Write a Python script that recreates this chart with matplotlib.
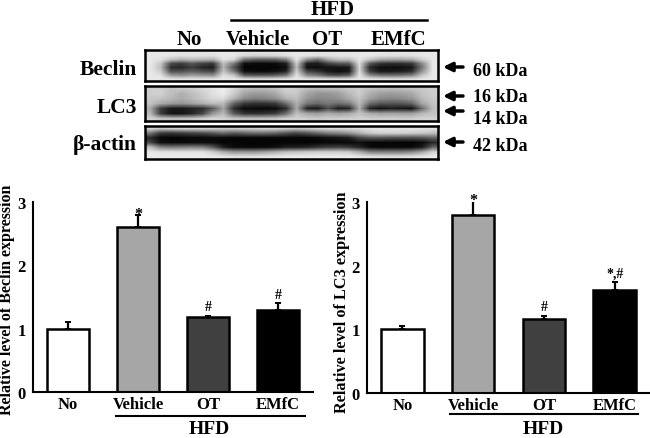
import numpy as np
import matplotlib
matplotlib.use('Agg')
import matplotlib.pyplot as plt

plt.rcParams['font.family'] = ['Liberation Serif', 'DejaVu Serif']
plt.rcParams['font.weight'] = 'bold'

W, H = 650, 439

groups = ['No', 'Vehicle', 'OT', 'EMfC']
bar_colors = ['white', '#a6a6a6', '#404040', 'black']

beclin_vals = [1.0, 2.6, 1.18, 1.3]
beclin_errs = [0.1, 0.2, 0.02, 0.1]
beclin_marks = ['', '*', '#', '#']

lc3_vals = [1.0, 2.8, 1.16, 1.62]
lc3_errs = [0.05, 0.22, 0.05, 0.12]
lc3_marks = ['', '*', '#', '*,#']

# blot gray levels (0 black, 255 white)
beclin_blot = [
    [232, 232, 232, 230, 230, 230, 232, 232, 232, 228, 228, 228, 228, 230, 232, 232, 230, 230, 230, 230, 232, 232, 232, 230, 230, 230, 232, 232],
    [232, 232, 228, 225, 225, 225, 225, 232, 232, 215, 210, 210, 212, 220, 232, 228, 222, 225, 228, 228, 232, 230, 225, 222, 222, 225, 230, 232],
    [232, 225, 190, 175, 185, 180, 175, 225, 215, 110, 90, 90, 95, 125, 228, 140, 105, 165, 190, 190, 230, 195, 165, 160, 160, 170, 205, 232],
    [232, 200, 75, 60, 85, 65, 55, 190, 120, 15, 10, 10, 12, 30, 205, 30, 25, 65, 85, 90, 220, 85, 50, 45, 45, 55, 140, 232],
    [232, 190, 45, 40, 60, 40, 30, 180, 85, 5, 5, 5, 5, 15, 190, 15, 15, 20, 20, 25, 215, 40, 15, 15, 15, 25, 120, 232],
    [232, 205, 80, 80, 95, 80, 70, 195, 120, 15, 10, 10, 15, 35, 205, 70, 50, 25, 15, 25, 220, 60, 25, 25, 30, 45, 150, 232],
    [232, 225, 150, 140, 155, 145, 140, 220, 195, 90, 80, 80, 90, 115, 225, 135, 115, 80, 70, 90, 228, 135, 110, 105, 110, 125, 195, 232],
    [232, 232, 228, 225, 228, 228, 228, 232, 232, 222, 218, 218, 220, 225, 232, 228, 225, 222, 220, 222, 232, 228, 225, 222, 222, 225, 230, 232],
]
lc3_blot = [
    [205, 205, 195, 200, 205, 215, 225, 235, 215, 190, 185, 185, 195, 210, 205, 190, 185, 190, 190, 200, 205, 195, 190, 190, 190, 195, 200, 205],
    [205, 210, 190, 175, 190, 205, 225, 235, 205, 165, 155, 155, 170, 200, 200, 165, 150, 150, 160, 185, 205, 175, 160, 155, 160, 170, 195, 205],
    [200, 195, 185, 170, 185, 200, 215, 220, 180, 140, 130, 135, 145, 180, 190, 150, 135, 140, 145, 170, 195, 160, 140, 135, 140, 150, 185, 200],
    [195, 170, 155, 150, 160, 175, 190, 185, 100, 55, 50, 50, 60, 110, 175, 120, 105, 120, 110, 125, 185, 110, 85, 85, 85, 100, 165, 195],
    [170, 60, 25, 25, 35, 45, 90, 165, 45, 10, 10, 10, 12, 45, 170, 35, 25, 80, 30, 40, 175, 35, 20, 30, 25, 20, 110, 190],
    [185, 60, 20, 20, 35, 70, 150, 185, 90, 50, 45, 50, 60, 110, 190, 165, 155, 170, 160, 170, 195, 170, 160, 165, 160, 160, 185, 195],
    [210, 195, 190, 190, 195, 205, 215, 210, 195, 190, 190, 190, 195, 205, 210, 205, 200, 205, 205, 205, 210, 205, 205, 205, 205, 205, 210, 210],
]
actin_blot = [
    [215, 205, 210, 215, 215, 215, 210, 205, 205, 210, 210, 215, 215, 205, 200, 205, 215, 220, 220, 220, 222, 225, 228, 228, 228, 228, 228, 225],
    [120, 60, 55, 60, 70, 75, 90, 105, 90, 100, 110, 110, 100, 85, 70, 85, 105, 125, 135, 150, 175, 200, 210, 210, 210, 205, 200, 190],
    [40, 5, 5, 5, 8, 8, 10, 8, 5, 5, 5, 5, 5, 5, 5, 5, 8, 15, 20, 30, 70, 85, 85, 80, 80, 80, 85, 100],
    [70, 15, 10, 10, 12, 12, 10, 5, 5, 5, 5, 5, 5, 5, 5, 5, 5, 8, 8, 10, 15, 8, 5, 5, 5, 5, 10, 40],
    [190, 130, 120, 125, 130, 125, 90, 30, 10, 8, 8, 10, 15, 30, 30, 35, 50, 60, 65, 55, 35, 10, 8, 8, 8, 10, 25, 100],
    [230, 225, 225, 225, 225, 225, 205, 170, 150, 150, 150, 160, 175, 190, 195, 200, 205, 205, 205, 200, 170, 130, 125, 125, 125, 135, 165, 210],
    [235, 235, 235, 235, 235, 235, 235, 230, 225, 225, 225, 228, 230, 235, 235, 235, 235, 235, 235, 235, 230, 225, 222, 222, 222, 225, 230, 235],
]

blot_names = ['Beclin', 'LC3', '\u03b2-actin']
blots = [beclin_blot, lc3_blot, actin_blot]
blot_boxes = [(145, 51, 438, 82), (145, 87, 438, 122), (145, 127, 438, 160)]
blot_label_y = [75, 113, 150]

arrow_y = [68, 97, 112, 143]
kda_labels = ['60 kDa', '16 kDa', '14 kDa', '42 kDa']
kda_y = [76, 102, 124, 151]
lane_labels = [('No', 189), ('Vehicle', 258), ('OT', 327), ('EMfC', 398)]


def make_ax(x0, y0, x1, y1):
    # axes from pixel box, y measured from the top
    return fig.add_axes([x0 / W, 1 - y1 / H, (x1 - x0) / W, (y1 - y0) / H])


def bar_panel(x0, x1, y_top, y_bot, vals, errs, marks, ylabel, ylab_x, ylab_y, ylab_size,
              hfd_x0, hfd_x1, hfd_y, hfd_cx):
    ax = make_ax(x0, y_top, x1, y_bot)
    x = np.arange(len(groups))
    ax.bar(x, vals, width=0.6, color=bar_colors, edgecolor='black', linewidth=1.8)
    ax.errorbar(x, vals, yerr=[np.zeros(4), errs], fmt='none', ecolor='black',
                elinewidth=1.6, capsize=2.5, capthick=1.4)
    for xi, v, e, m in zip(x, vals, errs, marks):
        if m == '*':
            ax.text(xi, v + e + 0.01, m, ha='center', va='center', fontsize=11.5, clip_on=False)
        else:
            ax.text(xi, v + e + 0.04, m, ha='center', va='bottom', fontsize=10, clip_on=False)
    ax.set_xlim(-0.5, 3.5)
    ax.set_ylim(0, 3)
    ax.set_yticks([0, 1, 2, 3])
    ax.set_xticks(x)
    ax.set_xticklabels(groups, fontsize=12, fontweight='bold')
    ax.tick_params(axis='x', length=0, pad=3)
    ax.tick_params(axis='y', length=0, pad=5, labelsize=12)
    for s in ['top', 'right']:
        ax.spines[s].set_visible(False)
    for s in ['left', 'bottom']:
        ax.spines[s].set_linewidth(1.5)
    ax.patch.set_alpha(0)
    fig.text(ylab_x / W, 1 - ylab_y / H, ylabel, rotation=90, ha='center', va='center', fontsize=ylab_size)
    # HFD rule under the last three groups
    fig_ax.plot([hfd_x0, hfd_x1], [hfd_y, hfd_y], color='black', lw=1.5)
    fig_ax.text(hfd_cx, 434.5, 'HFD', ha='center', va='baseline', fontsize=14)
    return ax


fig = plt.figure(figsize=(W / 100, H / 100), dpi=100)

# overlay in pixel coordinates for the blot labels, arrows and rules
fig_ax = fig.add_axes([0, 0, 1, 1])
fig_ax.set_xlim(0, W)
fig_ax.set_ylim(H, 0)
fig_ax.axis('off')

for name, blot, box, ly in zip(blot_names, blots, blot_boxes, blot_label_y):
    bx0, by0, bx1, by1 = box
    ax = make_ax(bx0, by0, bx1, by1)
    ax.imshow(np.array(blot), cmap='gray', vmin=0, vmax=255, aspect='auto', interpolation='bilinear')
    ax.set_xticks([])
    ax.set_yticks([])
    for s in ax.spines.values():
        s.set_linewidth(1.8)
    fig_ax.text(137, ly, name, ha='right', va='baseline', fontsize=15.5)

for lab, lx in lane_labels:
    fig_ax.text(lx, 45, lab, ha='center', va='baseline', fontsize=15)
fig_ax.text(333, 15, 'HFD', ha='center', va='baseline', fontsize=15)
fig_ax.plot([231, 427], [21, 21], color='black', lw=1.8)

for ay in arrow_y:
    fig_ax.annotate('', xy=(443, ay), xytext=(463, ay),
                    arrowprops=dict(arrowstyle='-|>', color='black', lw=2.5, mutation_scale=13, shrinkA=0, shrinkB=0))
for lab, ky in zip(kda_labels, kda_y):
    fig_ax.text(473, ky, lab, ha='left', va='baseline', fontsize=13)

bar_panel(33, 313, 203, 393, beclin_vals, beclin_errs, beclin_marks,
          'Relative level of Beclin expression', 7, 300, 11.5, 116, 305, 417.5, 209)
bar_panel(367, 650, 203, 394, lc3_vals, lc3_errs, lc3_marks,
          'Relative level of LC3 expression', 342, 302, 11.7, 450, 638, 415.5, 543)

fig.savefig('out.png', dpi=100)
